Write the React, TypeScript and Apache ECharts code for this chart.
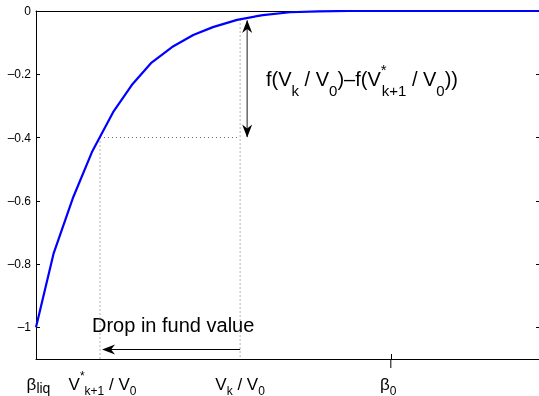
import React, { useEffect, useRef } from "react";
import * as echarts from "echarts";

// curve f(x) (x: beta_liq = 0 ... right edge = 1)
const xValues = [0, 0.035, 0.073, 0.111, 0.153, 0.19, 0.228, 0.27, 0.312, 0.351, 0.399, 0.45, 0.504, 0.56, 0.62, 0.7, 0.8, 0.9, 1.0];
const fValues = [-1, -0.766, -0.592, -0.446, -0.32, -0.234, -0.165, -0.114, -0.076, -0.051, -0.028, -0.013, -0.004, -0.001, 0, 0, 0, 0, 0];

const xTickValues = [0, 0.127, 0.405, 0.704];
const xTickLabels = [
  "{g5|}{m|β}{s2|liq}",
  "{g5|}{m|V}{sup|*}{s|k+1}{m| / V}{s|0}",
  "{m|V}{s|k}{m| / V}{s|0}",
  "{m|β}{s|0}{g5|}",
];
const yTickValues = [0, -0.2, -0.4, -0.6, -0.8, -1];

// reference points
const vStarX = 0.127;
const vStarF = -0.4;
const vkX = 0.405;
const vkF = -0.027;
const yMin = -1.1;
const yMax = 0;

// arrows: shafts (tip to tip) and arrow-head centres with their direction (deg)
const vArrowX = 0.419;
const vArrowShaft = [-0.03, -0.398];
const vArrowHeads = [
  [vArrowX, -0.049, 0],
  [vArrowX, -0.379, 180],
];
const hArrowY = -1.07;
const hArrowShaft = [0.405, 0.135];
const hArrowHeads = [[0.144, hArrowY, 90]];

const FONT = "'Liberation Sans', Arial, Helvetica, sans-serif";
const ARROW = "path://M5,0 L10,13 L5,9 L0,13 Z";

export default function App() {
  const ref = useRef<HTMLDivElement>(null);
  useEffect(() => {
    if (!ref.current) return;
    const chart = echarts.init(ref.current, undefined, { renderer: "svg" });
    const dotted = { color: "#666", width: 1, type: [1, 3] as any };
    const headSeries = (heads: number[][], color: string) => ({
      type: "scatter",
      data: heads.map((h) => ({ value: [h[0], h[1]], symbolRotate: h[2] })),
      symbol: ARROW,
      symbolSize: [10, 13],
      itemStyle: { color, opacity: 1 },
      silent: true,
      z: 4,
    });
    chart.setOption({
      animation: false,
      grid: { left: 36, top: 11, right: -1, bottom: 37, containLabel: false, outerBoundsMode: "none" },
      xAxis: [
        {
          type: "value",
          position: "bottom",
          min: 0,
          max: 1,
          splitLine: { show: false },
          axisLine: { show: true, onZero: false, lineStyle: { color: "#000", width: 1 } },
          axisTick: { show: true, inside: true, length: 5, customValues: [xTickValues[3]], lineStyle: { color: "#000" } },
          axisLabel: {
            show: true,
            customValues: xTickValues,
            margin: 13,
            hideOverlap: false,
            formatter: (v: number) => {
              const i = xTickValues.findIndex((t) => Math.abs(t - v) < 1e-6);
              return i >= 0 ? xTickLabels[i] : "";
            },
            rich: {
              m: { fontSize: 17, fontFamily: FONT, color: "#000", lineHeight: 24 },
              s: { fontSize: 12, fontFamily: FONT, color: "#000", lineHeight: 24, padding: [13, 0, 0, 0] },
              s2: { fontSize: 14, fontFamily: FONT, color: "#000", lineHeight: 24, padding: [7, 0, 0, 0] },
              sup: { fontSize: 12, fontFamily: FONT, color: "#000", lineHeight: 24, padding: [0, 0, 17, 0] },
              g5: { fontSize: 12, lineHeight: 24, width: 5 },
            },
          },
        },
        {
          type: "value",
          position: "top",
          min: 0,
          max: 1,
          splitLine: { show: false },
          axisLine: { show: true, onZero: false, lineStyle: { color: "#000", width: 1 } },
          axisTick: { show: false },
          axisLabel: { show: false },
        },
      ],
      yAxis: [
        {
          type: "value",
          position: "left",
          min: yMin,
          max: yMax,
          splitLine: { show: false },
          axisLine: { show: true, onZero: false, lineStyle: { color: "#000", width: 1 } },
          axisTick: { show: true, inside: true, length: 4, customValues: yTickValues, lineStyle: { color: "#000" } },
          axisLabel: {
            show: true,
            customValues: yTickValues,
            margin: 5,
            fontSize: 12,
            fontFamily: FONT,
            color: "#000",
            formatter: (v: number) => (v === 0 ? "0" : "–" + Math.abs(v).toString()),
          },
        },
        {
          type: "value",
          position: "right",
          min: yMin,
          max: yMax,
          splitLine: { show: false },
          axisLine: { show: true, onZero: false, lineStyle: { color: "#000", width: 1 } },
          axisTick: { show: true, inside: true, length: 4, customValues: yTickValues, lineStyle: { color: "#000" } },
          axisLabel: { show: false },
        },
      ],
      series: [
        { type: "line", data: [[vStarX, vStarF], [vStarX, yMin]], symbol: "none", lineStyle: dotted, silent: true, z: 1 },
        { type: "line", data: [[vStarX, vStarF], [vkX, vStarF]], symbol: "none", lineStyle: dotted, silent: true, z: 1 },
        { type: "line", data: [[vkX, vkF], [vkX, yMin]], symbol: "none", lineStyle: dotted, silent: true, z: 1 },
        {
          type: "line",
          data: [[vArrowX, vArrowShaft[0]], [vArrowX, vArrowShaft[1]]],
          symbol: "none",
          lineStyle: { color: "#666", width: 1.5 },
          silent: true,
          z: 3,
        },
        headSeries(vArrowHeads, "#000"),
        {
          type: "line",
          data: [[hArrowShaft[0], hArrowY], [hArrowShaft[1], hArrowY]],
          symbol: "none",
          lineStyle: { color: "#000", width: 1 },
          silent: true,
          z: 3,
        },
        headSeries(hArrowHeads, "#000"),
        {
          type: "line",
          data: xValues.map((x, i) => [x, fValues[i]]),
          symbol: "none",
          lineStyle: { color: "#0000ff", width: 2.2 },
          silent: true,
          z: 5,
        },
      ],
      graphic: [
        {
          type: "text",
          left: 266,
          top: 60,
          silent: true,
          style: {
            text: "{m|f(V}{s|k}{m| / V}{s|0}{m|)–f(V}{sup|*}{s|k+1}{m| / V}{s|0}{m|))}",
            rich: {
              m: { fontSize: 20, fontFamily: FONT, fill: "#000", lineHeight: 30 },
              s: { fontSize: 15, fontFamily: FONT, fill: "#000", lineHeight: 30, padding: [23, 0, 0, 0] },
              sup: { fontSize: 15, fontFamily: FONT, fill: "#000", lineHeight: 30, padding: [0, 0, 19, 0], width: 1 },
            },
          },
        },
        {
          type: "text",
          left: 92,
          top: 315,
          silent: true,
          style: { text: "Drop in fund value", fontSize: 20, fontFamily: FONT, fill: "#000" },
        },
      ],
    });
    // beta_0 tick part that sticks out below the axis
    const px = chart.convertToPixel({ xAxisIndex: 0 }, xTickValues[3]) as number;
    const py = chart.convertToPixel({ yAxisIndex: 0 }, yMin) as number;
    chart.setOption({
      graphic: [
        {},
        {},
        {
          type: "line",
          silent: true,
          shape: { x1: px, y1: py, x2: px, y2: py + 9 },
          style: { stroke: "#000", lineWidth: 1 },
        },
      ],
    });
    return () => chart.dispose();
  }, []);
  return <div ref={ref} style={{ position: "fixed", left: 0, top: 0, width: 539, height: 396 }} />;
}
